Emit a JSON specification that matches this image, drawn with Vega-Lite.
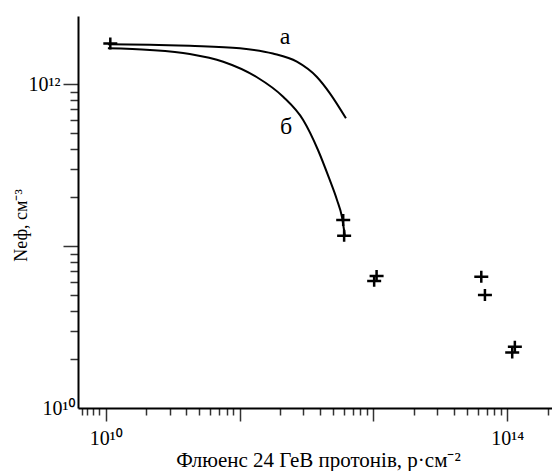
{
  "$schema": "https://vega.github.io/schema/vega-lite/v6.json",
  "width": 474,
  "height": 392,
  "autosize": {"type": "none"},
  "padding": {"left": 78, "top": 16, "right": 0, "bottom": 63},
  "background": "white",
  "config": {
    "view": {"stroke": null},
    "font": "Liberation Serif",
    "axis": {
      "grid": false,
      "domainColor": "black",
      "domainWidth": 2,
      "tickColor": "#333",
      "tickWidth": 1.5,
      "labelFont": "Liberation Serif, Noto Sans",
      "titleFont": "Liberation Serif",
      "labelColor": "black",
      "titleColor": "black",
      "titleFontWeight": "normal"
    }
  },
  "datasets": {
    "curves": [
      {"curve": "а", "fluence": 1.05e10, "neff": 1.77e12},
      {"curve": "а", "fluence": 2.75e10, "neff": 1.76e12},
      {"curve": "а", "fluence": 6.87e10, "neff": 1.73e12},
      {"curve": "а", "fluence": 2.17e11, "neff": 1.67e12},
      {"curve": "а", "fluence": 4.62e11, "neff": 1.55e12},
      {"curve": "а", "fluence": 8.01e11, "neff": 1.38e12},
      {"curve": "а", "fluence": 1.27e12, "neff": 1.11e12},
      {"curve": "а", "fluence": 1.71e12, "neff": 8.80e11},
      {"curve": "а", "fluence": 2.47e12, "neff": 6.17e11},
      {"curve": "б", "fluence": 1.05e10, "neff": 1.67e12},
      {"curve": "б", "fluence": 2.75e10, "neff": 1.63e12},
      {"curve": "б", "fluence": 6.87e10, "neff": 1.54e12},
      {"curve": "б", "fluence": 1.48e11, "neff": 1.38e12},
      {"curve": "б", "fluence": 3.18e11, "neff": 1.11e12},
      {"curve": "б", "fluence": 5.85e11, "neff": 8.38e11},
      {"curve": "б", "fluence": 9.26e11, "neff": 6.02e11},
      {"curve": "б", "fluence": 1.301e12, "neff": 3.93e11},
      {"curve": "б", "fluence": 1.675e12, "neff": 2.64e11},
      {"curve": "б", "fluence": 2.012e12, "neff": 1.93e11},
      {"curve": "б", "fluence": 2.256e12, "neff": 1.515e11},
      {"curve": "б", "fluence": 2.417e12, "neff": 1.145e11}
    ],
    "measured": [
      {"fluence": 1.11e10, "neff": 1.79e12},
      {"fluence": 2.32e12, "neff": 1.45e11},
      {"fluence": 2.37e12, "neff": 1.16e11},
      {"fluence": 4.99e12, "neff": 6.55e10},
      {"fluence": 4.72e12, "neff": 6.10e10},
      {"fluence": 5.51e13, "neff": 6.47e10},
      {"fluence": 5.99e13, "neff": 4.99e10},
      {"fluence": 1.19e14, "neff": 2.39e10},
      {"fluence": 1.12e14, "neff": 2.20e10}
    ],
    "curveNames": [
      {"fluence": 6.10e11, "neff": 1.96e12, "name": "а"},
      {"fluence": 6.25e11, "neff": 5.46e11, "name": "б"}
    ]
  },
  "layer": [
    {
      "data": {"name": "curves"},
      "mark": {"type": "line", "color": "black", "strokeWidth": 2, "interpolate": "monotone"},
      "encoding": {
        "x": {
          "field": "fluence", "type": "quantitative",
          "scale": {"type": "log", "domain": [5.29e9, 2.79e14], "nice": false},
          "axis": {
            "orient": "bottom",
            "title": "Флюенс 24 ГеВ протонів, р·см⁻²",
            "titleFontSize": 21,
            "titleX": 240,
            "titleY": 52,
            "titleBaseline": "middle",
            "values": [5.759e9, 6.551e9, 7.516e9, 8.625e9, 1e10,
                       2.520e10, 4.327e10, 6.348e10, 8.551e10, 1.090e11, 1.339e11, 1.600e11, 1.872e11, 2.154e11,
                       5.429e11, 9.322e11, 1.368e12, 1.842e12, 2.349e12, 2.885e12, 3.447e12, 4.034e12, 4.642e12,
                       1.170e13, 2.009e13, 2.947e13, 3.968e13, 5.062e13, 6.217e13, 7.428e13, 8.690e13, 1e14,
                       2.520e14],
            "tickSize": {"condition": {"test": "indexof([1e10, 2.154e11, 4.642e12, 1e14], datum.value) >= 0", "value": 13}, "value": 7},
            "labelFontSize": 20,
            "labelPadding": 7,
            "labelOverlap": false,
            "labelExpr": "datum.value == 1e10 ? '10¹⁰' : (datum.value == 1e14 ? '10¹⁴' : '')"
          }
        },
        "y": {
          "field": "neff", "type": "quantitative",
          "scale": {"type": "log", "domain": [1e10, 2.645e12], "nice": false},
          "axis": {
            "orient": "left",
            "title": "Nеф, см⁻³",
            "titleFontSize": 18,
            "titleX": -57,
            "titleY": 209,
            "titleBaseline": "middle",
            "values": [1e10, 2e10, 3e10, 4e10, 5e10, 6e10, 7e10, 8e10, 9e10,
                       1e11, 2e11, 3e11, 4e11, 5e11, 6e11, 7e11, 8e11, 9e11, 1e12],
            "tickSize": {"condition": [
              {"test": "datum.value < 1.5e10", "value": 0},
              {"test": "datum.value == 1e11 || datum.value == 1e12", "value": 15}
            ], "value": 8},
            "labelFontSize": 20,
            "labelPadding": 3,
            "labelOverlap": false,
            "labelExpr": "datum.value == 1e12 ? '10¹²' : (datum.value < 1.5e10 ? '10¹⁰' : '')"
          }
        },
        "detail": {"field": "curve", "type": "nominal"}
      }
    },
    {
      "data": {"name": "measured"},
      "mark": {"type": "point", "shape": "M-1,0H1M0,-0.85V0.85", "filled": false, "color": "black", "strokeWidth": 2.5, "size": 196, "opacity": 1},
      "encoding": {
        "x": {"field": "fluence", "type": "quantitative", "scale": {"type": "log", "domain": [5.29e9, 2.79e14], "nice": false}},
        "y": {"field": "neff", "type": "quantitative", "scale": {"type": "log", "domain": [1e10, 2.645e12], "nice": false}}
      }
    },
    {
      "data": {"name": "curveNames"},
      "mark": {"type": "text", "font": "Liberation Serif", "fontSize": 24, "color": "black", "align": "center", "baseline": "middle"},
      "encoding": {
        "x": {"field": "fluence", "type": "quantitative", "scale": {"type": "log", "domain": [5.29e9, 2.79e14], "nice": false}},
        "y": {"field": "neff", "type": "quantitative", "scale": {"type": "log", "domain": [1e10, 2.645e12], "nice": false}},
        "text": {"field": "name"}
      }
    }
  ]
}
